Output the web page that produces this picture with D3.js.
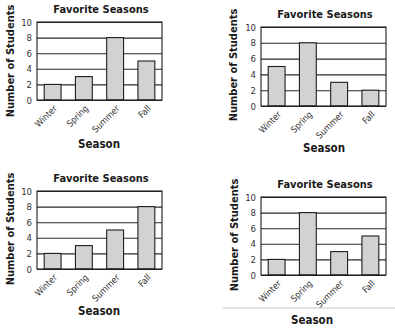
<!DOCTYPE html>
<html>
<head>
<meta charset="utf-8">
<script src="https://cdn.jsdelivr.net/npm/d3@7"></script>
<style>
  html, body { margin: 0; padding: 0; background: #fff; }
  svg { display: block; }
  text { font-family: "DejaVu Sans", Verdana, sans-serif; }
</style>
</head>
<body>
<script>
// ---- data ----
const seasons = ["Winter", "Spring", "Summer", "Fall"];
const valuesTopLeft = [2, 3, 8, 5];
const valuesTopRight = [5, 8, 3, 2];
const valuesBottomLeft = [2, 3, 5, 8];
const valuesBottomRight = [2, 8, 3, 5];
const yTicks = [0, 2, 4, 6, 8, 10];
const titleText = "Favorite Seasons";
const yLabelText = "Number of Students";
const xLabelText = "Season";

// ---- layout ----
const W = 395, H = 331;
const panels = [
  { values: valuesTopLeft,     x0: 37,  x1: 162, y0: 22,  y1: 100, titleX: 101, titleY: 13,  yLabX: 14,  yLabY: 61,  xLabX: 99,  xLabY: 148 },
  { values: valuesTopRight,    x0: 261, x1: 386, y0: 27,  y1: 106, titleX: 325, titleY: 18,  yLabX: 237, yLabY: 65,  xLabX: 324, xLabY: 152 },
  { values: valuesBottomLeft,  x0: 37,  x1: 162, y0: 191, y1: 269, titleX: 101, titleY: 182, yLabX: 14,  yLabY: 229, xLabX: 99,  xLabY: 315 },
  { values: valuesBottomRight, x0: 261, x1: 386, y0: 197, y1: 275, titleX: 325, titleY: 188, yLabX: 238, yLabY: 235, xLabX: 312, xLabY: 324, rule: { x0: 223, x1: 395, y: 308 } }
];

const svg = d3.select("body").append("svg").attr("width", W).attr("height", H);

panels.forEach(p => {
  const g = svg.append("g");
  const x = d3.scaleBand().domain(seasons).range([p.x0, p.x1]).paddingInner(0.46).paddingOuter(0.23);
  const y = d3.scaleLinear().domain([0, 10]).range([p.y1, p.y0]);

  // grid lines
  g.append("g")
    .attr("transform", `translate(${p.x0},0)`)
    .call(d3.axisLeft(y).tickValues(yTicks).tickSize(-(p.x1 - p.x0)).tickFormat(""))
    .call(s => s.select(".domain").remove())
    .call(s => s.selectAll("line").attr("stroke", "#2a2a2a").attr("stroke-width", 1.1));

  // tick labels
  g.append("g")
    .attr("transform", `translate(${p.x0},0)`)
    .call(d3.axisLeft(y).tickValues(yTicks).tickSize(0).tickPadding(5))
    .call(s => s.select(".domain").remove())
    .call(s => s.selectAll("text").attr("fill", "#333").style("font-size", "9.5px").style("font-family", "'DejaVu Sans Condensed', 'DejaVu Sans', sans-serif"));

  // bars
  g.selectAll("rect.bar").data(seasons.map((s, i) => ({ s, v: p.values[i] })))
    .join("rect").attr("class", "bar")
    .attr("x", d => x(d.s)).attr("width", x.bandwidth())
    .attr("y", d => y(d.v)).attr("height", d => y(0) - y(d.v))
    .attr("fill", "#d2d2d2").attr("stroke", "#1e1e1e").attr("stroke-width", 1.1);

  // frame
  g.append("rect").attr("x", p.x0).attr("y", p.y0).attr("width", p.x1 - p.x0).attr("height", p.y1 - p.y0)
    .attr("fill", "none").attr("stroke", "#1e1e1e").attr("stroke-width", 1.1);

  // x labels
  const xa = g.append("g")
    .attr("transform", `translate(0,${p.y1})`)
    .call(d3.axisBottom(x).tickSize(0).tickPadding(0))
    .call(s => s.select(".domain").remove());
  xa.selectAll("text")
    .attr("fill", "#333")
    .style("font-size", "9px")
    .style("font-family", "'DejaVu Sans Condensed', 'DejaVu Sans', sans-serif")
    .attr("text-anchor", "end")
    .attr("dy", "0")
    .attr("y", 0)
    .attr("transform", d => `translate(5,9) rotate(-45)`);

  // title
  g.append("text").attr("x", p.titleX).attr("y", p.titleY).attr("text-anchor", "middle")
    .style("font-family", "'DejaVu Sans Condensed', 'DejaVu Sans', sans-serif")
    .style("font-weight", "bold").style("font-size", "11px").attr("fill", "#1a1a1a").text(titleText);

  // y label
  g.append("text").attr("transform", `translate(${p.yLabX},${p.yLabY}) rotate(-90)`).attr("text-anchor", "middle")
    .style("font-family", "'DejaVu Sans Condensed', 'DejaVu Sans', sans-serif")
    .style("font-weight", "bold").style("font-size", "11px").attr("fill", "#1a1a1a").text(yLabelText);

  // x label
  g.append("text").attr("x", p.xLabX).attr("y", p.xLabY).attr("text-anchor", "middle")
    .style("font-family", "'DejaVu Sans Condensed', 'DejaVu Sans', sans-serif")
    .style("font-weight", "bold").style("font-size", "11.5px").attr("fill", "#1a1a1a").text(xLabelText);

  if (p.rule) {
    g.append("line").attr("x1", p.rule.x0).attr("x2", p.rule.x1).attr("y1", p.rule.y).attr("y2", p.rule.y)
      .attr("stroke", "#c8c8c8").attr("stroke-width", 1);
  }
});
</script>
</body>
</html>
